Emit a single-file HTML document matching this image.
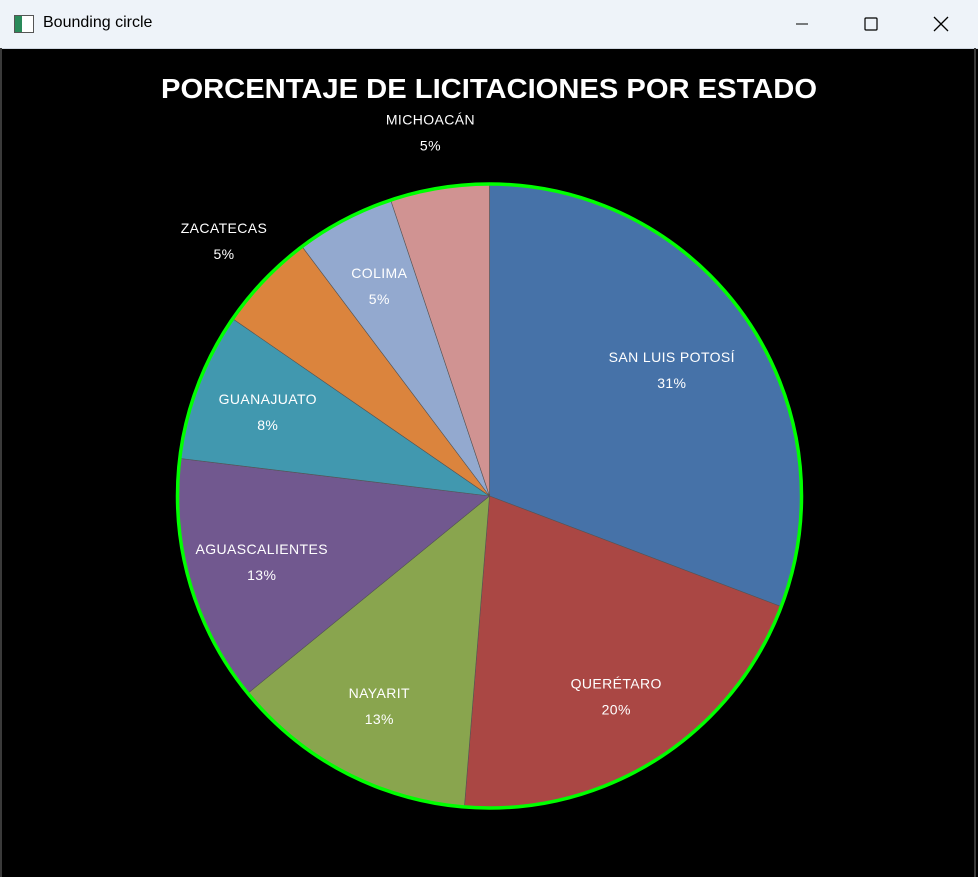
<!DOCTYPE html>
<html><head><meta charset="utf-8">
<style>
body{margin:0;width:978px;height:877px;overflow:hidden;background:#000;font-family:"Liberation Sans",sans-serif;}
#titlebar{position:absolute;left:0;top:0;width:978px;height:48px;background:#eef3f9;border-bottom:1px solid #cfd6e0;}
#wintitle{position:absolute;left:43px;top:14px;font-size:16px;color:#000;}
#appicon{position:absolute;left:14px;top:15px;width:18px;height:16px;border:1px solid #555;background:linear-gradient(90deg,#2a8a5a 40%,#fff 40%);}
.ctl{position:absolute;top:10px;width:30px;height:28px;}
#frame{position:absolute;left:0;top:48px;width:976px;height:829px;border-left:2px solid #3a3a3a;border-right:2px solid #3a3a3a;box-sizing:border-box;}
</style></head><body>
<div id="titlebar">
<div id="appicon"></div>
<div id="wintitle">Bounding circle</div>
<svg class="ctl" style="left:787px"><line x1="9" y1="14" x2="21" y2="14" stroke="#000" stroke-width="1"/></svg>
<svg class="ctl" style="left:856px"><rect x="9" y="8" width="12" height="12" fill="none" stroke="#000" stroke-width="1.2" rx="1"/></svg>
<svg class="ctl" style="left:926px"><path d="M8 7 L22 21 M22 7 L8 21" stroke="#000" stroke-width="1.3"/></svg>
</div>
<div id="frame"></div>
<svg id="chart" width="978" height="877" style="position:absolute;left:0;top:0">
<text x="489" y="98" text-anchor="middle" fill="#fff" font-weight="bold" font-size="28" textLength="656" lengthAdjust="spacingAndGlyphs">PORCENTAJE DE LICITACIONES POR ESTADO</text>
<g id="slices"></g>
<g id="labels"></g>
<circle cx="489.5" cy="496" r="312" fill="none" stroke="#00ff00" stroke-width="3.5"/>
</svg>
<script>
const categories = ["SAN LUIS POTOSÍ","QUERÉTARO","NAYARIT","AGUASCALIENTES","GUANAJUATO","ZACATECAS","COLIMA","MICHOACÁN"];
const values = [12,8,5,5,3,2,2,2];
const pctLabels = ["31%","20%","13%","13%","8%","5%","5%","5%"];
const outsideLabel = [false,false,false,false,false,true,false,true];
const colors = ["#4672a8","#aa4744","#89a54e","#71588f","#4198af","#db843d","#93a9cf","#d09392"];
const cx=489.5, cy=496, R=312;
const ns="http://www.w3.org/2000/svg";
const total=values.reduce((a,b)=>a+b,0);
function pt(a,r){return [cx+r*Math.sin(a), cy-r*Math.cos(a)];}
let acc=0;
const sg=document.getElementById('slices'), lg=document.getElementById('labels');
values.forEach((v,i)=>{
  const a0=acc/total*2*Math.PI; acc+=v; const a1=acc/total*2*Math.PI;
  const p0=pt(a0,R), p1=pt(a1,R);
  const large=(a1-a0)>Math.PI?1:0;
  const p=document.createElementNS(ns,'path');
  p.setAttribute('d',`M${cx},${cy} L${p0[0]},${p0[1]} A${R},${R} 0 ${large} 1 ${p1[0]},${p1[1]} Z`);
  p.setAttribute('fill',colors[i]);
  p.setAttribute('stroke','#555');
  p.setAttribute('stroke-width','0.6');
  
  
  sg.appendChild(p);
  const am=(a0+a1)/2;
  const lr=outsideLabel[i]?R*1.18:(v/total>0.25?R*0.71:R*0.76);
  const c=pt(am,lr);
  [[categories[i],-8],[pctLabels[i],18]].forEach((t,k)=>{
    const tx=document.createElementNS(ns,'text');
    tx.setAttribute('x',c[0]); tx.setAttribute('y',c[1]+t[1]);
    tx.setAttribute('text-anchor','middle');
    tx.setAttribute('fill','#fff');
    tx.setAttribute('font-size','14');
    tx.setAttribute('letter-spacing','0.4');
    tx.textContent=t[0];
    
    
    lg.appendChild(tx);
  });
});
</script>
</body></html>
